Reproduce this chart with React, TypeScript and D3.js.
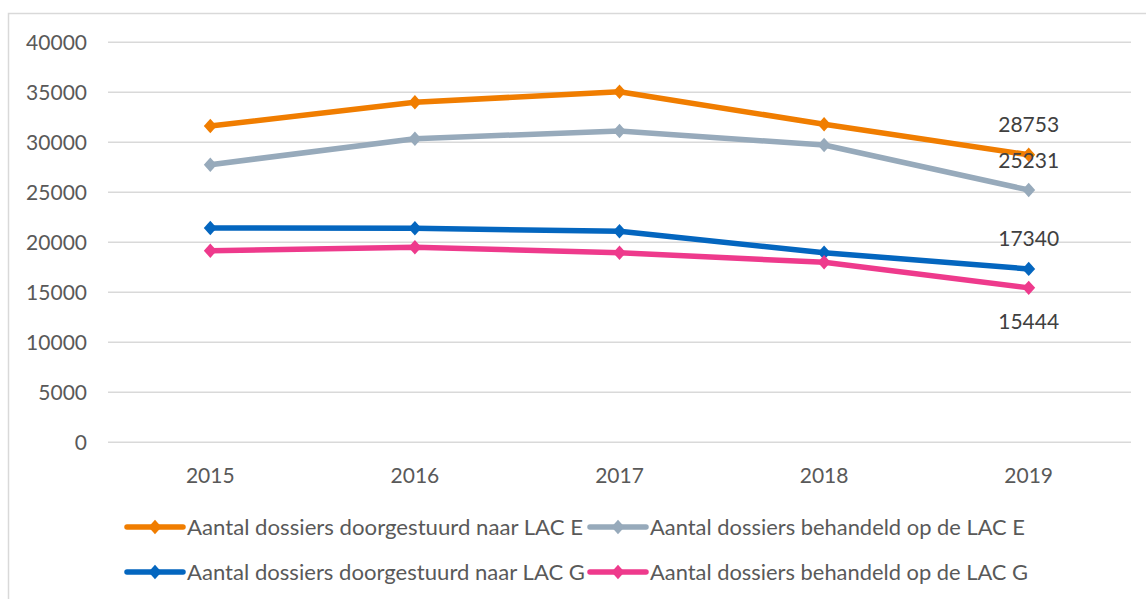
import React from "react";
import * as d3 from "d3";

const years = ["2015", "2016", "2017", "2018", "2019"];
const doorgestuurdE = [31630, 34000, 35060, 31800, 28753];
const behandeldE = [27760, 30360, 31130, 29730, 25231];
const doorgestuurdG = [21430, 21400, 21100, 18960, 17340];
const behandeldG = [19160, 19500, 18960, 18000, 15444];
const yTicks = [0, 5000, 10000, 15000, 20000, 25000, 30000, 35000, 40000];
const seriesNames = [
  "Aantal dossiers doorgestuurd naar LAC E",
  "Aantal dossiers behandeld op de LAC E",
  "Aantal dossiers doorgestuurd naar LAC G",
  "Aantal dossiers behandeld op de LAC G",
];
const seriesColors = ["#F07D00", "#97AABB", "#0466BF", "#EE3A8C"];
const seriesValues = [doorgestuurdE, behandeldE, doorgestuurdG, behandeldG];
const labelOffsets = [-30, -30, -30, 34];

const W = 1146;
const H = 599;
const FONT = "Lato, 'Open Sans', sans-serif";

export default function App() {
  const x = d3.scalePoint<string>().domain(years).range([108, 1131]).padding(0.5);
  const y = d3.scaleLinear().domain([0, 40000]).range([442.3, 42.3]);
  const line = d3
    .line<number>()
    .x((_, i) => x(years[i]) as number)
    .y((d) => y(d));
  const diamond = (cx: number, cy: number, r = 7.2) =>
    `M${cx},${cy - r}L${cx + r * 0.9},${cy}L${cx},${cy + r}L${cx - r * 0.9},${cy}Z`;

  const legendItems = [
    { sx: 127, tx: 187, ty: 535, tl: 396 },
    { sx: 590, tx: 650, ty: 535, tl: 375 },
    { sx: 127, tx: 187, ty: 580, tl: 398 },
    { sx: 590, tx: 650, ty: 580, tl: 378 },
  ];

  return (
    <svg
      width={W}
      height={H}
      style={{ position: "absolute", left: 0, top: 0, background: "#fff" }}
      fontFamily={FONT}
    >
      <rect x={0} y={0} width={W} height={H} fill="#fff" />
      <rect x={8.5} y={13.5} width={W + 20} height={H + 20} fill="none" stroke="#D9D9D9" strokeWidth={1.5} />
      {yTicks.map((t) => (
        <g key={t}>
          <line x1={108} x2={1131} y1={y(t)} y2={y(t)} stroke="#D9D9D9" strokeWidth={1.5} />
          <text x={87} y={y(t)} dy="0.36em" textAnchor="end" fontSize={21} fill="#595959">
            {t}
          </text>
        </g>
      ))}
      {years.map((yr) => (
        <text key={yr} x={x(yr) as number} y={483} textAnchor="middle" fontSize={21} fill="#595959">
          {yr}
        </text>
      ))}
      {seriesValues.map((vals, si) => (
        <g key={si}>
          <path d={line(vals) || ""} fill="none" stroke={seriesColors[si]} strokeWidth={5.5} strokeLinejoin="round" />
          {vals.map((v, i) => (
            <path key={i} d={diamond(x(years[i]) as number, y(v))} fill={seriesColors[si]} />
          ))}
        </g>
      ))}
      {seriesValues.map((vals, si) => {
        const last = vals.length - 1;
        return (
          <text
            key={"lbl" + si}
            x={x(years[last]) as number}
            y={y(vals[last]) + labelOffsets[si]}
            dy="0.36em"
            textAnchor="middle"
            fontSize={21}
            fill="#404040"
          >
            {vals[last]}
          </text>
        );
      })}
      {legendItems.map((li, i) => (
        <g key={"leg" + i}>
          <line
            x1={li.sx}
            x2={li.sx + 56}
            y1={li.ty - 8}
            y2={li.ty - 8}
            stroke={seriesColors[i]}
            strokeWidth={5.5}
            strokeLinecap="round"
          />
          <path d={diamond(li.sx + 28, li.ty - 8)} fill={seriesColors[i]} />
          <text
            x={li.tx}
            y={li.ty}
            fontSize={22}
            fill="#595959"
            textLength={li.tl}
            lengthAdjust="spacingAndGlyphs"
          >
            {seriesNames[i]}
          </text>
        </g>
      ))}
    </svg>
  );
}
